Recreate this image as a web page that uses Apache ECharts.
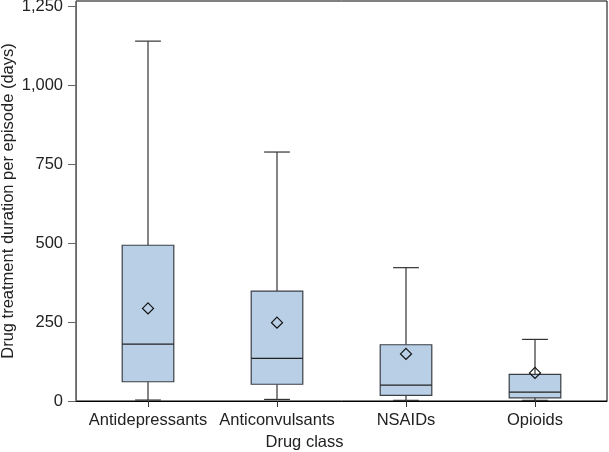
<!DOCTYPE html>
<html>
<head>
<meta charset="utf-8">
<script src="https://cdn.jsdelivr.net/npm/echarts@6/dist/echarts.min.js"></script>
<style>html,body{margin:0;padding:0;background:#fff}#c{width:609px;height:452px}</style>
</head>
<body>
<div id="c"></div>
<script>
const categories = ['Antidepressants', 'Anticonvulsants', 'NSAIDs', 'Opioids'];
const lowWhisker = [3, 5, 2, 2];
const q1Values = [61, 53, 18, 10];
const medians = [180, 135, 50, 28];
const q3Values = [493, 348, 178, 84];
const highWhisker = [1139, 788, 422, 195];
const means = [293, 248, 149, 89];
const yTicks = [0, 250, 500, 750, 1000, 1250];

const data = categories.map((c, i) => [i, lowWhisker[i], q1Values[i], medians[i], q3Values[i], highWhisker[i], means[i]]);

const chart = echarts.init(document.getElementById('c'));
const font = 'Liberation Sans, Arial, sans-serif';
const fs = 16.5;
const yMax = 1266;

chart.setOption({
  animation: false,
  grid: [
    { left: 76, right: 2, top: 1, bottom: 51, show: true, borderColor: '#000', borderWidth: 1, containLabel: false, outerBoundsMode: 'none' },
    { left: 83.5, right: 9.5, top: 1, bottom: 51, containLabel: false, outerBoundsMode: 'none' }
  ],
  xAxis: [
    { gridIndex: 0, type: 'value', min: 0, max: 1, show: true,
      axisLine: { show: true, lineStyle: { color: '#000', width: 1 } },
      axisTick: { show: false }, axisLabel: { show: false }, splitLine: { show: false } },
    { gridIndex: 1, type: 'category', data: categories, boundaryGap: true,
      axisLine: { show: false },
      axisTick: { show: true, alignWithLabel: true, length: 6, interval: 0, lineStyle: { color: '#333' } },
      axisLabel: { color: '#222', fontSize: fs, fontFamily: font, margin: 11, interval: 0, hideOverlap: false },
      splitLine: { show: false } }
  ],
  yAxis: [
    { gridIndex: 0, type: 'value', min: 0, max: yMax,
      name: 'Drug treatment duration per episode (days)', nameLocation: 'middle', nameGap: 59,
      nameMoveOverlap: false,
      nameTextStyle: { color: '#222', fontSize: fs, fontFamily: font },
      axisLine: { show: true, lineStyle: { color: '#666', width: 1 } },
      axisTick: { show: true, length: 8, customValues: yTicks, lineStyle: { color: '#666' } },
      axisLabel: { color: '#222', fontSize: fs, fontFamily: font, margin: 13, customValues: yTicks,
        formatter: v => v.toLocaleString('en-US') },
      splitLine: { show: false } },
    { gridIndex: 1, type: 'value', min: 0, max: yMax, show: false }
  ],
  title: { text: 'Drug class', left: 'center', top: 434, padding: 0,
    textStyle: { color: '#222', fontSize: fs, fontWeight: 'normal', fontFamily: font } },
  series: [{
    type: 'custom',
    xAxisIndex: 1, yAxisIndex: 1,
    data: data,
    renderItem: function (params, api) {
      const x = api.value(0);
      const band = api.size([1, 0])[0];
      const half = band * 0.2;
      const cap = band * 0.1;
      const pLow = api.coord([x, api.value(1)]);
      const pQ1 = api.coord([x, api.value(2)]);
      const pMed = api.coord([x, api.value(3)]);
      const pQ3 = api.coord([x, api.value(4)]);
      const pHigh = api.coord([x, api.value(5)]);
      const pMean = api.coord([x, api.value(6)]);
      const cx = pLow[0];
      const lineStyle = { stroke: '#333', lineWidth: 1.2 };
      const d = 5.5;
      return {
        type: 'group',
        children: [
          { type: 'line', shape: { x1: cx, y1: pHigh[1], x2: cx, y2: pQ3[1] }, style: lineStyle },
          { type: 'line', shape: { x1: cx, y1: pQ1[1], x2: cx, y2: pLow[1] }, style: lineStyle },
          { type: 'line', shape: { x1: cx - cap, y1: pHigh[1], x2: cx + cap, y2: pHigh[1] }, style: lineStyle },
          { type: 'line', shape: { x1: cx - cap, y1: pLow[1], x2: cx + cap, y2: pLow[1] }, style: lineStyle },
          { type: 'rect', shape: { x: cx - half, y: pQ3[1], width: half * 2, height: pQ1[1] - pQ3[1] },
            style: { fill: '#b8cfe6', stroke: '#3a3f45', lineWidth: 1.2 } },
          { type: 'line', shape: { x1: cx - half, y1: pMed[1], x2: cx + half, y2: pMed[1] }, style: { stroke: '#222', lineWidth: 1.2 } },
          { type: 'polygon', shape: { points: [[cx, pMean[1] - d], [cx + d, pMean[1]], [cx, pMean[1] + d], [cx - d, pMean[1]]] },
            style: { fill: 'none', stroke: '#111', lineWidth: 1.2 } }
        ]
      };
    }
  }]
});
</script>
</body>
</html>
